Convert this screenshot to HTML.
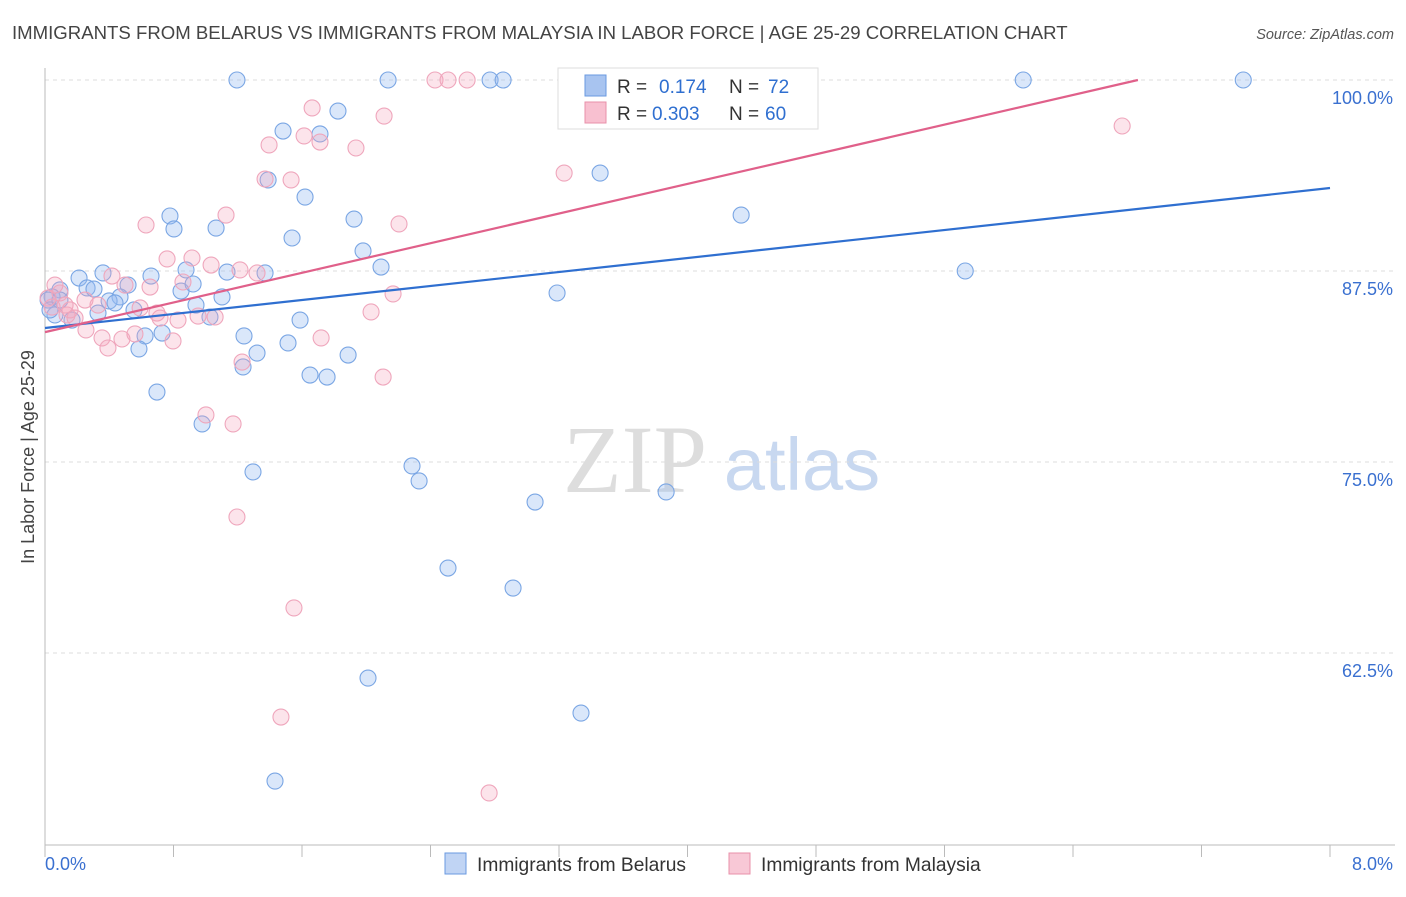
<!DOCTYPE html>
<html><head><meta charset="utf-8"><style>
body{margin:0;background:#fff;font-family:"Liberation Sans",sans-serif}
</style></head><body>
<svg id="c" width="1406" height="892" xmlns="http://www.w3.org/2000/svg">
<text x="12" y="39" font-size="18.6" fill="#444">IMMIGRANTS FROM BELARUS VS IMMIGRANTS FROM MALAYSIA IN LABOR FORCE | AGE 25-29 CORRELATION CHART</text>
<text x="1394" y="39" font-size="14.5" fill="#555" font-style="italic" text-anchor="end">Source: ZipAtlas.com</text>
<text x="635" y="492" font-size="96" fill="#ddd" font-family="Liberation Serif,serif" text-anchor="middle">ZIP</text>
<text x="802" y="490" font-size="74" fill="#c8d8f0" text-anchor="middle">atlas</text>
<text transform="translate(34,457) rotate(-90)" font-size="18" fill="#444" text-anchor="middle">In Labor Force | Age 25-29</text>
<g id="grid"></g><g id="pts"></g><g id="trend"></g>
<g>
<rect x="558" y="68" width="260" height="61" fill="#fff" stroke="#ddd"/>
<rect x="585" y="75" width="21" height="21" fill="#a8c4f0" stroke="#6a9ae0"/>
<text x="617" y="93" font-size="19" fill="#333">R =</text>
<text x="659" y="93" font-size="19" fill="#2f6fd0">0.174</text>
<text x="729" y="93" font-size="19" fill="#333">N =</text>
<text x="768" y="93" font-size="19" fill="#2f6fd0">72</text>
<rect x="585" y="102" width="21" height="21" fill="#f8c0d0" stroke="#e890aa"/>
<text x="617" y="120" font-size="19" fill="#333">R =</text>
<text x="652" y="120" font-size="19" fill="#2f6fd0">0.303</text>
<text x="729" y="120" font-size="19" fill="#333">N =</text>
<text x="765" y="120" font-size="19" fill="#2f6fd0">60</text>
</g>
<g>
<rect x="445" y="853" width="21" height="21" fill="#c0d4f4" stroke="#6a9ae0"/>
<text x="477" y="871" font-size="19.2" fill="#333">Immigrants from Belarus</text>
<rect x="729" y="853" width="21" height="21" fill="#f8c8d6" stroke="#e890aa"/>
<text x="761" y="871" font-size="19.2" fill="#333">Immigrants from Malaysia</text>
</g>
</svg>
<script>
const yTicks=[100,87.5,75,62.5];
const yTickLabels=["100.0%","87.5%","75.0%","62.5%"];
const xEndLabels=["0.0%","8.0%"];
const blueX=[1.195,2.136,2.771,2.852,3.736,4.166,6.090,7.460,1.824,1.482,1.712,1.389,1.619,3.456,4.334,0.778,0.803,1.065,1.924,1.538,1.980,2.092,1.370,1.133,0.878,0.660,0.361,0.212,5.729,3.188,0.262,0.305,0.517,0.093,0.044,0.019,0.847,0.922,1.102,0.467,0.399,0.436,0.940,0.554,0.330,0.168,0.062,1.027,1.588,0.729,0.623,1.239,1.513,0.585,1.320,1.887,1.233,1.650,1.756,0.697,0.978,1.295,2.285,2.329,3.051,3.867,2.509,2.914,2.011,3.337,1.432,0.031,0.093];
const blueY=[100,100,100,100,100,100,100,100,97.97,96.66,96.47,93.46,92.34,93.91,91.16,91.10,90.25,90.31,90.90,89.66,88.81,87.76,87.37,87.43,87.57,87.17,87.37,87.04,87.50,86.06,86.39,86.32,86.58,86.26,85.80,85.60,86.19,86.65,85.80,85.80,85.54,85.41,85.27,84.95,84.75,84.29,84.62,84.49,84.29,83.44,83.25,83.25,82.79,82.40,82.13,82.00,81.22,80.69,80.56,79.58,77.49,74.35,74.74,73.76,72.38,73.04,68.06,66.75,60.86,58.57,54.12,84.95,85.60];
const pinkX=[2.428,2.509,2.628,3.394,3.767,1.663,2.111,6.706,1.395,1.613,1.712,1.936,1.370,1.532,3.232,1.127,0.629,2.204,0.915,0.760,1.034,0.417,1.320,0.859,2.167,0.654,0.093,0.019,0.249,0.330,0.592,0.697,0.828,0.953,1.059,2.030,0.137,0.187,0.255,0.355,0.479,0.560,0.797,1.719,0.392,1.227,2.105,1.002,1.171,1.195,1.550,1.469,2.765,0.044,0.156,0.498,0.716,0.062,1.214,0.125];
const pinkY=[100,100,100,100,100,98.17,97.64,96.99,95.75,96.34,95.94,95.55,93.52,93.46,93.91,91.16,90.51,90.58,88.35,88.29,87.89,87.17,87.37,86.78,86.00,86.45,86.06,85.73,85.60,85.27,85.08,84.75,84.29,84.55,84.49,84.82,84.62,84.42,83.64,83.12,83.05,83.38,82.92,83.12,82.46,81.54,80.56,78.08,77.49,71.40,65.45,58.31,53.34,85.14,84.95,86.58,84.42,86.58,87.57,85.27];
const blueTrend=[83.77,92.93];
const pinkTrend=[83.5,102.9];
const NS="http://www.w3.org/2000/svg";
const X=v=>45+v*160.625, Y=v=>80+(100-v)*15.28;
function mk(t,a,p){const e=document.createElementNS(NS,t);for(const k in a)e.setAttribute(k,a[k]);p.appendChild(e);return e;}
const g=document.getElementById('grid');
yTicks.forEach((t,i)=>{
 const l=mk('line',{x1:45,x2:1395,y1:Y(t),y2:Y(t),stroke:'#ddd','stroke-dasharray':'4,4'},g);
 
 
 const tx=mk('text',{x:1393,y:Y(t)+24,'font-size':18,fill:'#3a70d0','text-anchor':'end'},g);
 tx.textContent=yTickLabels[i];
 
 
});
const ax=mk('line',{x1:45,x2:45,y1:68,y2:845,stroke:'#bbb'},g);


const bx=mk('line',{x1:45,x2:1395,y1:845,y2:845,stroke:'#bbb'},g);


for(let i=0;i<=10;i++){
 const t=mk('line',{x1:X(i*0.8),x2:X(i*0.8),y1:845,y2:857,stroke:'#bbb'},g);
 
 
}
[[0,'start',45],[8,'end',1393]].forEach((d,i)=>{
 const t=mk('text',{x:d[2],y:870,'font-size':18,fill:'#3a70d0','text-anchor':d[1]},g);
 t.textContent=xEndLabels[i];
 
 
});
const p=document.getElementById('pts');
blueX.forEach((x,i)=>{
 const c=mk('circle',{cx:X(x),cy:Y(blueY[i]),r:8,fill:'rgba(150,185,240,0.35)',stroke:'#7aa6e4','stroke-width':1.1},p);
 
 
});
pinkX.forEach((x,i)=>{
 const c=mk('circle',{cx:X(x),cy:Y(pinkY[i]),r:8,fill:'rgba(245,165,190,0.3)',stroke:'#efa6bc','stroke-width':1.1},p);
 
 
});
const tr=document.getElementById('trend');
const bl=mk('line',{x1:X(0),y1:Y(blueTrend[0]),x2:X(8),y2:Y(blueTrend[1]),stroke:'#2f6fd0','stroke-width':2.2},tr);


const xe=8*(100-pinkTrend[0])/(pinkTrend[1]-pinkTrend[0]);
const pl=mk('line',{x1:X(0),y1:Y(pinkTrend[0]),x2:X(Math.min(8,xe)),y2:Y(Math.min(100,pinkTrend[1])),stroke:'#e0608a','stroke-width':2.2},tr);


</script>
</body></html>
